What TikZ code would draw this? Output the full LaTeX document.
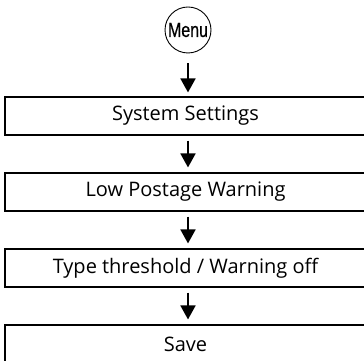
\documentclass[tikz,border=0pt]{standalone}
\usepackage{fontspec}
\setmainfont{Open Sans}
\newfontfamily\menufont[FakeStretch=0.78,FakeBold=0.6]{Liberation Sans}
\usetikzlibrary{arrows.meta}
\begin{document}
\begin{tikzpicture}[x=1pt,y=1pt,
  stepbox/.style={draw, line width=1.1pt, minimum width=361pt, minimum height=38pt,
    inner sep=0pt, font=\fontsize{20}{22}\selectfont},
  arr/.style={line width=1.8pt, -{Triangle[width=15pt 0, length=14pt 0]}},
  menubtn/.style={draw, circle, line width=0.9pt, minimum size=46pt, inner sep=0pt,
    font=\menufont\fontsize{20.5}{22}\selectfont}]
\useasboundingbox (0,0) rectangle (364,361);
\clip (0,0) rectangle (364,361);
\node[menubtn] (menu) at (188,331) {Menu};
\node[stepbox] (b1) at (185.5,245) {System Settings};
\node[stepbox] (b2) at (185.5,169) {Low Postage Warning};
\node[stepbox] (b3) at (185.5,93) {Type threshold / Warning off};
\node[stepbox] (b4) at (185.5,17) {Save};
\draw[arr, shorten <=10pt, shorten >=4pt] (menu.south) -- (b1.north -| menu.center);
\draw[arr, shorten <=5pt, shorten >=5pt] (b1.south -| menu.center) -- (b2.north -| menu.center);
\draw[arr, shorten <=5pt, shorten >=5pt] (b2.south -| menu.center) -- (b3.north -| menu.center);
\draw[arr, shorten <=5pt, shorten >=5pt] (b3.south -| menu.center) -- (b4.north -| menu.center);
\end{tikzpicture}
\end{document}
